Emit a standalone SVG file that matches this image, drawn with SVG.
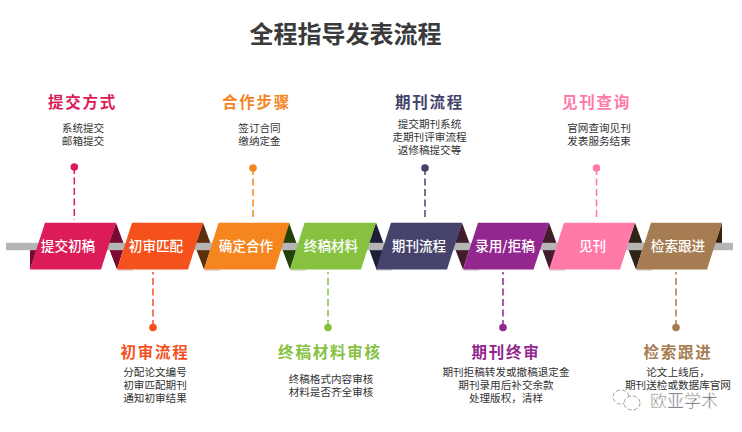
<svg xmlns="http://www.w3.org/2000/svg" width="742" height="432" viewBox="0 0 742 432">
<style>
text{font-family:"Noto Sans CJK SC","Liberation Sans",sans-serif;text-anchor:middle}
.title{font-size:24px;font-weight:700;fill:#3a3a3a}
.head{font-size:15.500px;font-weight:700;letter-spacing:1.800px}
.body{font-size:10.600px;fill:#333}
.rib{font-size:13.600px;font-weight:500;fill:#fff}
.dash{fill:none;stroke-width:1.500;stroke-dasharray:7 3.500}
.bar{fill:#b5b5b5}
.sh{fill:none;stroke:#c4b8bc;stroke-width:1}
</style>
<rect width="742" height="432" fill="#fff"/>
<text class="title" x="345.500" y="43">全程指导发表流程</text>
<g id="folds">
<polygon points="30,269.500 30,246 38,246" fill="#7a0a32"/>
<polygon points="116,222.700 124.500,246 117,269.500 108,246" fill="#7a0a32"/>
<polygon points="203,222.700 211.500,246 204,269.500 195,246" fill="#5c300d"/>
<polygon points="289,222.700 297.500,246 290,269.500 281,246" fill="#244207"/>
<polygon points="376,222.700 384.500,246 376.500,269.500 368,246" fill="#1e1e38"/>
<polygon points="462,222.700 470.500,246 463,269.500 454,246" fill="#401c2c"/>
<polygon points="549,222.700 557.500,246 549.500,269.500 541,246" fill="#401c2c"/>
<polygon points="635,222.700 643.500,246 636,269.500 627,246" fill="#2e2416"/>
<polygon points="722,222.700 722,246 714,246" fill="#3a220c"/>
</g>
<rect id="bar" class="bar" x="6" y="242.800" width="727" height="7.400"/>
<g id="shadows">
<path class="sh" d="M118 270H133M205 270H220M291 270H306M377 270H392M464 270H479M550 270H565M637 270H652"/>
</g>
<g id="connectors">
<path class="dash" stroke="#dc1c58" d="M74.300 167V220"/>
<path class="dash" stroke="#f5511c" d="M153 327V272"/>
<path class="dash" stroke="#f5851f" d="M253 168V220"/>
<path class="dash" stroke="#86c240" d="M328 327V272"/>
<path class="dash" stroke="#45436b" d="M425 168V220"/>
<path class="dash" stroke="#93268f" d="M503 327V272"/>
<path class="dash" stroke="#ff79a9" d="M596.500 168V220"/>
<path class="dash" stroke="#a67c52" d="M676 327V272"/>
</g>
<g id="n1"><polygon points="45,222.700 116,222.700 101,269.500 30,269.500" fill="#dc1c58"/><text class="rib" x="68" y="251">提交初稿</text>
<circle cx="74.300" cy="167" r="3.800" fill="#dc1c58"/><text class="head" x="82.500" y="108" fill="#dc1c58">提交方式</text><text class="body" x="83" y="132">系统提交</text><text class="body" x="83" y="145">邮箱提交</text></g>
<g id="n2"><polygon points="132,222.700 203,222.700 188,269.500 117,269.500" fill="#f5511c"/><text class="rib" x="156" y="251">初审匹配</text>
<circle cx="153" cy="327.500" r="3.800" fill="#f5511c"/><text class="head" x="155" y="358" fill="#f5511c">初审流程</text><text class="body" x="155" y="376">分配论文编号</text><text class="body" x="155" y="389">初审匹配期刊</text><text class="body" x="155" y="402">通知初审结果</text></g>
<g id="n3"><polygon points="218.500,222.700 289.500,222.700 275,269.500 204,269.500" fill="#f5851f"/><text class="rib" x="246" y="251">确定合作</text>
<circle cx="253" cy="168" r="3.800" fill="#f5851f"/><text class="head" x="256.500" y="108" fill="#f5851f">合作步骤</text><text class="body" x="259.500" y="132">签订合同</text><text class="body" x="259.500" y="145">缴纳定金</text></g>
<g id="n4"><polygon points="304.500,222.700 376,222.700 361,269.500 290,269.500" fill="#86c240"/><text class="rib" x="331" y="251">终稿材料</text>
<circle cx="328" cy="327.500" r="3.800" fill="#86c240"/><text class="head" x="330" y="358" fill="#86c240">终稿材料审核</text><text class="body" x="331" y="383">终稿格式内容审核</text><text class="body" x="331" y="396">材料是否齐全审核</text></g>
<g id="n5"><polygon points="391,222.700 462,222.700 447,269.500 376,269.500" fill="#45436b"/><text class="rib" x="419" y="251">期刊流程</text>
<circle cx="425" cy="168" r="3.800" fill="#45436b"/><text class="head" x="429.500" y="108" fill="#45436b">期刊流程</text><text class="body" x="429.500" y="128">提交期刊系统</text><text class="body" x="429.500" y="141">走期刊评审流程</text><text class="body" x="429.500" y="154">返修稿提交等</text></g>
<g id="n6"><polygon points="478,222.700 549,222.700 533.500,269.500 463,269.500" fill="#93268f"/><text class="rib" x="505" y="251">录用/拒稿</text>
<circle cx="503" cy="327.500" r="3.800" fill="#93268f"/><text class="head" x="506" y="358" fill="#93268f">期刊终审</text><text class="body" x="506" y="376">期刊拒稿转发或撤稿退定金</text><text class="body" x="506" y="389">期刊录用后补交余款</text><text class="body" x="506" y="402">处理版权，清样</text></g>
<g id="n7"><polygon points="564,222.700 635,222.700 620,269.500 549,269.500" fill="#ff79a9"/><text class="rib" x="592.500" y="251">见刊</text>
<circle cx="596.500" cy="168" r="3.800" fill="#ff79a9"/><text class="head" x="596.500" y="108" fill="#ff79a9">见刊查询</text><text class="body" x="599" y="132">官网查询见刊</text><text class="body" x="599" y="145">发表服务结束</text></g>
<g id="n8"><polygon points="651,222.700 722,222.700 707,269.500 636,269.500" fill="#a67c52"/><text class="rib" x="678" y="251">检索跟进</text>
<circle cx="676" cy="327.500" r="3.800" fill="#a67c52"/><text class="head" x="678" y="358" fill="#a67c52">检索跟进</text><text class="body" x="678" y="376">论文上线后，</text><text class="body" x="678" y="389">期刊送检或数据库官网</text></g>
<g id="watermark">
<ellipse cx="621" cy="397" rx="8" ry="7" fill="#fff" stroke="#888" stroke-width=".8" stroke-dasharray="4 2"/>
<ellipse cx="632" cy="403" rx="8" ry="7" fill="#fff" stroke="#888" stroke-width=".8" stroke-dasharray="4 2"/>
<text x="684" y="407" style="font-size:17px" fill="#555" stroke="#fff" stroke-width=".6">欧亚学术</text>
</g>
</svg>
